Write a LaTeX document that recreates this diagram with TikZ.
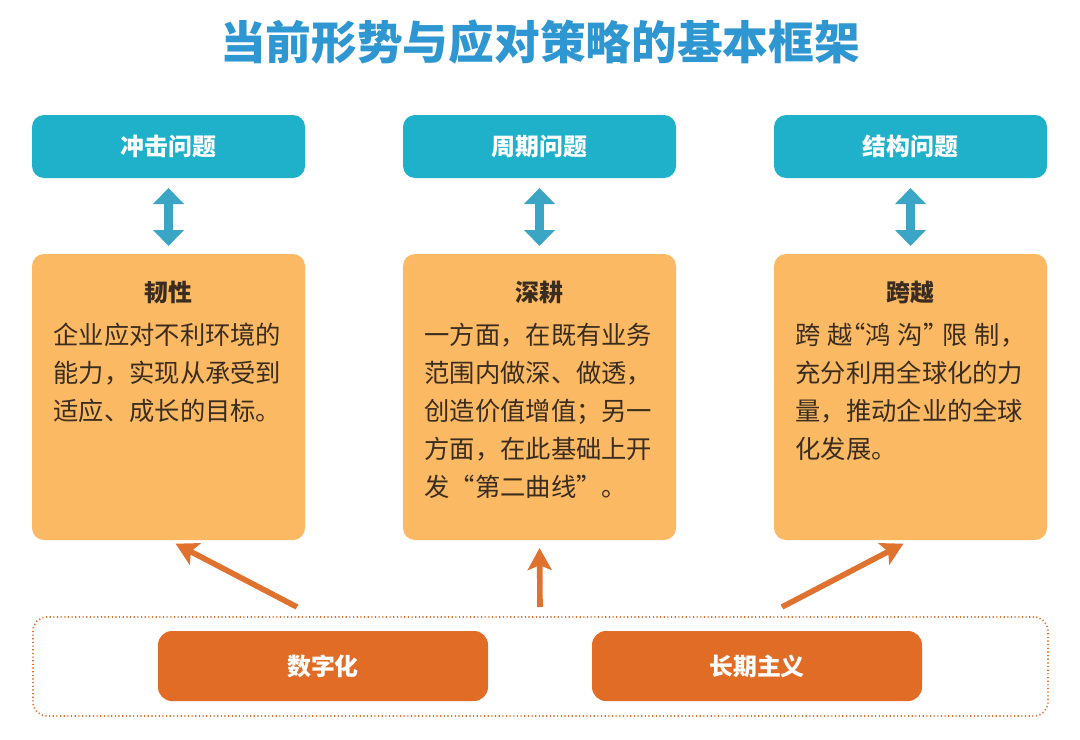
\documentclass[tikz,border=0pt]{standalone}
\usepackage{fontspec}
\setmainfont{Noto Sans CJK SC}
\usepackage{tikz}
\usetikzlibrary{arrows.meta,%
                shapes,positioning}
\definecolor{titleblue}{HTML}{2E96D0}
\definecolor{cyanbox}{HTML}{1FB1C9}
\definecolor{cyanarrow}{HTML}{3AA5C5}
\definecolor{orangebox}{HTML}{FBB963}
\definecolor{rustbox}{HTML}{E06C26}
\definecolor{rustline}{HTML}{E0722F}
\definecolor{bodytext}{HTML}{3A2D20}

\begin{document}
\begin{tikzpicture}[node distance   = 2 cm]
  \useasboundingbox (0,0) rectangle (27,-18.475);
  \tikzset{TitleStyle/.style = {text           = titleblue,
                                font           = \bfseries\fontsize{32.5}{36}\selectfont}}
  \tikzset{IssueStyle/.style = {shape          = rectangle,
                                rounded corners = 0.3cm,
                                fill           = cyanbox,
                                text           = white,
                                font           = \bfseries\fontsize{17}{20}\selectfont,
                                outer sep      = 0pt,
                                minimum width  = 6.825cm,
                                minimum height = 1.575cm}}
  \tikzset{CardStyle/.style  = {shape          = rectangle,
                                rounded corners = 0.3cm,
                                fill           = orangebox,
                                outer sep      = 0pt,
                                minimum width  = 6.825cm,
                                minimum height = 7.15cm}}
  \tikzset{HeadStyle/.style  = {text           = bodytext,
                                inner sep      = 0pt,
                                font           = \bfseries\fontsize{17}{20}\selectfont}}
  \tikzset{TextStyle/.style  = {text           = bodytext,
                                inner sep      = 0pt,
                                text width     = 5.75cm,
                                align          = left,
                                font           = \fontsize{18}{27}\selectfont}}
  \tikzset{DriverStyle/.style = {shape          = rectangle,
                                rounded corners = 0.35cm,
                                fill           = rustbox,
                                text           = white,
                                font           = \bfseries\fontsize{17}{20}\selectfont,
                                outer sep      = 0pt,
                                minimum width  = 8.25cm,
                                minimum height = 1.75cm}}
  \tikzset{FrameStyle/.style = {shape          = rectangle,
                                rounded corners = 0.35cm,
                                draw           = rustline,
                                line width     = 1.2pt,
                                dash pattern   = on 0.8pt off 1.8pt,
                                minimum width  = 25.375cm,
                                minimum height = 2.475cm}}
  \tikzset{LinkStyle/.style  = {draw           = cyanarrow,
                                line width     = 0.22cm,
                                shorten <      = 0.25cm,
                                shorten >      = 0.2cm,
                                {Triangle[width=0.75cm,length=0.4cm]}-{Triangle[width=0.75cm,length=0.4cm]}}}
  \tikzset{PushStyle/.style  = {draw           = rustline,
                                line width     = 0.14cm,
                                shorten >      = 0.2cm,
                                -{Stealth[width=0.6cm,length=0.55cm,inset=0.12cm]}}}
     % title
     \node[TitleStyle] (title) at (13.5,-1.05) {当前形势与应对策略的基本框架};
     % problems
     \node[IssueStyle] (p1) at (4.2125,-3.6625) {冲击问题};
     \node[IssueStyle,right=2.45cm of p1] (p2) {周期问题};
     \node[IssueStyle,right=2.45cm of p2] (p3) {结构问题};
     % answers
     \node[CardStyle,below=1.9cm of p1] (s1) {};
     \node[CardStyle,below=1.9cm of p2] (s2) {};
     \node[CardStyle,below=1.9cm of p3] (s3) {};
     \node[HeadStyle,below=0.67cm of s1.north] (h1) {韧性};
     \node[HeadStyle,below=0.67cm of s2.north] (h2) {深耕};
     \node[HeadStyle,below=0.67cm of s3.north] (h3) {跨越};
     \node[TextStyle,below=1.73cm of s1.north] (t1)
          {企业应对不利环境的\\能力，实现从承受到\\适应、成长的目标。};
     \node[TextStyle,below=1.73cm of s2.north] (t2)
          {一方面，在既有业务\\范围内做深、做透，\\创造价值增值；另一\\方面，在此基础上开\\发“第二曲线”。};
     \node[TextStyle,below=1.73cm of s3.north] (t3)
          {\makebox[\hsize][l]{跨\hfill 越\makebox[0.5em][r]{“}鸿\hfill 沟\makebox[0.5em][l]{”}\hfill 限\hfill 制，}\\充分利用全球化的力\\量，推动企业的全球\\化发展。};
     \draw[LinkStyle] (p1.south) -- (s1.north);
     \draw[LinkStyle] (p2.south) -- (s2.north);
     \draw[LinkStyle] (p3.south) -- (s3.north);
     % drivers
     \node[FrameStyle] (frame) at (13.5125,-16.6625) {};
     \node[DriverStyle] (d1) at (8.075,-16.65) {数字化};
     \node[DriverStyle,right=2.6cm of d1] (d2) {长期主义};
     \coordinate (a1) at (7.425,-15.175);
     \coordinate (a2) at (13.5,-15.175);
     \coordinate (a3) at (19.55,-15.175);
     \draw[PushStyle] (a1) -- (s1.south);
     \draw[PushStyle] (a2) -- (s2.south);
     \draw[PushStyle] (a3) -- (s3.south);
  \end{tikzpicture}
\end{document}
